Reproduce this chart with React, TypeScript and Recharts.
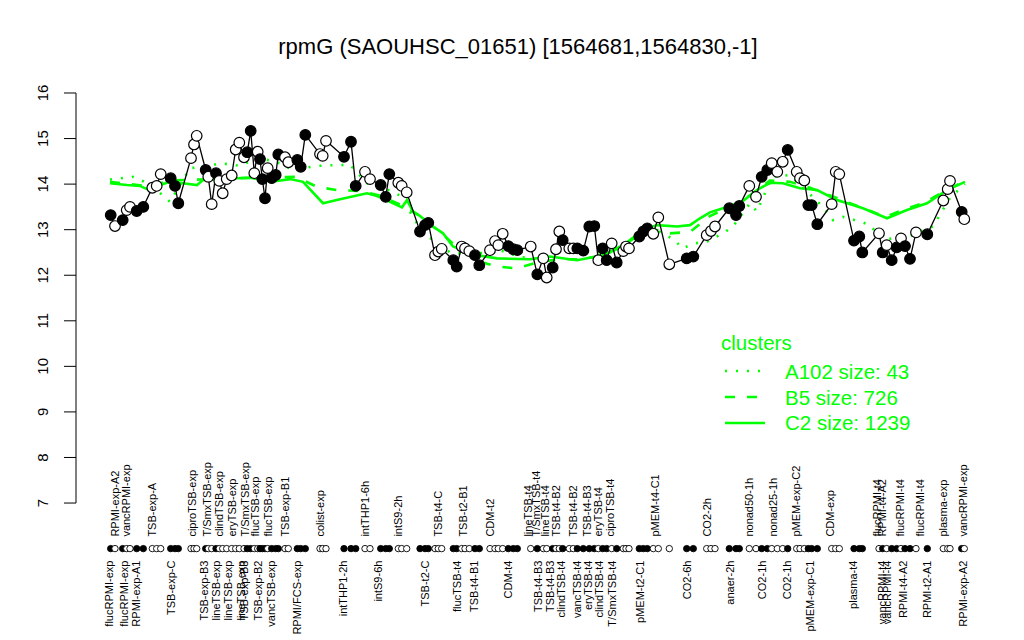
import React from 'react';
import { ComposedChart, Line, XAxis, YAxis, ReferenceLine } from 'recharts';

const FONT = '"Liberation Sans", Arial, Helvetica, sans-serif';
const GREEN = '#00ff00';

const TITLE = 'rpmG (SAOUHSC_01651) [1564681,1564830,-1]';

// axis ranges
const X_MIN = 76;
const X_MAX = 997;
const Y_MIN = 3.994;
const Y_MAX = 18.041;
const yTicks = [7, 8, 9, 10, 11, 12, 13, 14, 15, 16];
const STRIP_LEVEL = 6;

// sample positions (ordinal position along the condition strip)
const pointPos = [
  110.7, 115, 122.7, 126.7, 130, 136.7, 143.3, 152.3, 156.7, 160.7,
  170.7, 175, 178.3, 191, 194, 196.7, 205.7, 208.3, 211.7, 216,
  219.3, 222.7, 226.7, 231.7, 235.7, 239.3, 244, 247.3, 250.7, 254.3,
  257.7, 260, 262.3, 265, 267.7, 271.7, 275.7, 278.3, 285, 288.3,
  297.3, 300.7, 305.3, 320, 322.7, 326, 344, 351, 355.7, 365,
  370, 380.7, 385.7, 389.3, 398.3, 401.7, 406.7, 420, 425, 428.3,
  435, 438.3, 441.7, 453.3, 456.7, 461.7, 465, 469.3, 475, 479.3,
  490, 495, 498.3, 502.7, 508.3, 513.3, 517.3, 530.7, 537.3, 543.3,
  546.7, 552.7, 556, 559.3, 562.7, 569.3, 573.3, 577.3, 583.3, 589.3,
  594.3, 598.3, 602.7, 606.7, 611.7, 616.7, 623.3, 626, 629, 639.3,
  643.3, 647.3, 653.3, 658.3, 669.3, 686.7, 693.3, 706.7, 711, 715,
  729.3, 736, 739.3, 749.3, 756, 761.7, 767.3, 771.7, 777.3, 782.7,
  787.7, 796.7, 800, 804.3, 808.3, 811.7, 817.3, 831.7, 835.7, 839.3,
  854, 859.3, 862.3, 879, 882.7, 886.7, 891.7, 896.7, 901, 905,
  910, 916, 927.3, 943.3, 947.7, 950, 961.7, 964.3,
];

// expression values
const pointVal = [
  13.32, 13.08, 13.21, 13.43, 13.5, 13.41, 13.5, 13.92, 13.96, 14.22,
  14.13, 13.96, 13.58, 14.57, 14.87, 15.06, 14.31, 14.16, 13.56, 14.24,
  14.07, 13.8, 14.11, 14.19, 14.76, 14.91, 14.59, 14.7, 15.17, 14.24,
  14.71, 14.55, 14.11, 13.69, 14.35, 14.13, 14.2, 14.65, 14.59, 14.48,
  14.53, 14.38, 15.08, 14.66, 14.62, 14.95, 14.6, 14.93, 13.96, 14.27,
  14.11, 13.98, 13.72, 14.22, 14.03, 13.96, 13.82, 12.96, 13.1, 13.15,
  12.44, 12.52, 12.58, 12.33, 12.19, 12.63, 12.59, 12.53, 12.44, 12.22,
  12.55, 12.75, 12.66, 12.91, 12.64, 12.57, 12.55, 12.63, 12.02, 12.37,
  11.95, 12.17, 12.57, 12.96, 12.77, 12.59, 12.59, 12.59, 12.54, 13.07,
  13.08, 12.33, 12.59, 12.33, 12.7, 12.28, 12.53, 12.63, 12.59, 12.85,
  12.96, 13.03, 12.91, 13.27, 12.24, 12.37, 12.41, 12.88, 12.97, 13.07,
  13.47, 13.32, 13.52, 13.96, 13.72, 14.16, 14.31, 14.46, 14.27, 14.49,
  14.75, 14.27, 14.13, 14.08, 13.54, 13.54, 13.12, 13.56, 14.27, 14.22,
  12.76, 12.85, 12.5, 12.92, 12.5, 12.66, 12.33, 12.61, 12.81, 12.64,
  12.36, 12.94, 12.9, 13.64, 13.89, 14.07, 13.39, 13.23,
];

// 1 = filled marker, 0 = open marker
const pointFilled = [
  1, 0, 1, 0, 0, 1, 1, 0, 0, 0,
  1, 1, 1, 0, 0, 0, 1, 0, 0, 1,
  0, 0, 0, 0, 0, 0, 0, 1, 1, 0,
  0, 1, 1, 1, 0, 1, 1, 1, 0, 0,
  1, 1, 1, 0, 0, 0, 1, 1, 1, 0,
  0, 1, 1, 1, 0, 0, 0, 1, 1, 1,
  0, 0, 0, 1, 1, 0, 0, 0, 1, 1,
  0, 0, 0, 0, 1, 1, 1, 0, 1, 0,
  0, 1, 0, 0, 1, 0, 0, 1, 1, 1,
  1, 0, 1, 1, 0, 1, 0, 0, 0, 1,
  1, 1, 0, 0, 0, 1, 1, 0, 0, 0,
  1, 1, 1, 0, 0, 1, 1, 0, 0, 0,
  1, 0, 0, 0, 1, 1, 1, 0, 0, 0,
  1, 1, 1, 0, 1, 0, 1, 1, 0, 1,
  1, 0, 1, 0, 0, 0, 1, 0,
];

// cluster means
const c2Pos = [110, 127, 140, 147, 157, 170, 183, 197, 203, 223, 237, 250, 263, 277, 290, 303, 323, 340, 367, 377, 390, 402, 407, 413, 420, 433, 443, 453, 477, 497, 530, 550, 577, 603, 623, 643, 657, 677, 690, 700, 710, 723, 740, 757, 770, 783, 800, 817, 837, 863, 887, 907, 927, 947, 965];
const c2Val = [14.02, 13.98, 13.96, 13.89, 13.96, 14.05, 14.02, 13.98, 14.09, 14.11, 14.13, 14.14, 14.09, 14.07, 14.11, 14.05, 13.58, 13.67, 13.8, 13.74, 13.61, 13.49, 13.65, 13.4, 13.3, 13.07, 12.92, 12.63, 12.44, 12.37, 12.35, 12.41, 12.33, 12.44, 12.66, 12.99, 13.1, 13.07, 13.1, 13.25, 13.38, 13.47, 13.58, 13.87, 14.03, 14.02, 13.91, 13.87, 13.65, 13.47, 13.25, 13.43, 13.58, 13.87, 14.05];

const b5Pos = [110, 130, 150, 170, 200, 230, 260, 280, 296, 317, 337, 360, 380, 400, 420, 440, 460, 480, 497, 517, 540, 560, 580, 600, 620, 640, 655, 670, 690, 710, 730, 750, 770, 790, 810, 830, 860, 885, 905, 925, 945, 965];
const b5Val = [14.05, 14.0, 13.95, 14.08, 14.1, 14.12, 14.15, 14.15, 14.16, 13.94, 13.87, 13.85, 13.75, 13.55, 13.3, 12.95, 12.55, 12.3, 12.19, 12.15, 12.3, 12.35, 12.35, 12.42, 12.6, 12.9, 13.0, 12.92, 12.95, 13.3, 13.5, 13.75, 14.08, 14.05, 13.92, 13.75, 13.5, 13.28, 13.45, 13.6, 13.85, 14.07];

const a102Pos = [110, 133, 150, 170, 190, 210, 220, 240, 257, 275, 293, 317, 337, 350, 367, 385, 400, 417, 430, 450, 470, 500, 520, 540, 560, 580, 600, 620, 640, 660, 675, 682, 695, 707, 723, 733, 750, 757, 772, 790, 807, 823, 833, 843, 860, 870, 883, 897, 910, 923, 933, 950, 965];
const a102Val = [14.1, 14.16, 14.0, 13.61, 14.35, 14.4, 14.46, 14.4, 14.57, 14.5, 14.31, 14.4, 14.42, 14.42, 14.02, 13.9, 13.75, 13.14, 12.82, 12.5, 12.45, 12.55, 12.4, 12.35, 12.5, 12.55, 12.5, 12.5, 12.8, 12.95, 12.77, 12.59, 12.7, 12.74, 12.92, 13.07, 13.58, 13.4, 14.16, 14.2, 13.84, 13.5, 13.21, 13.28, 13.18, 13.1, 12.77, 12.83, 12.85, 12.99, 13.07, 13.7, 14.0];

// condition labels above the strip
const aboveLabelPos = [115, 125.7, 152.3, 191.7, 207.3, 219, 231.7, 245, 255, 267.7, 285, 320, 365, 398.3, 438.3, 463.3, 490, 528.3, 536, 545, 556, 573.3, 586.7, 598.3, 610, 655, 706.7, 749.3, 773.3, 796, 830, 876.7, 881.7, 900, 920, 943.3, 963.3];
const aboveLabelText = ['RPMI-exp-A2', 'vancRPMI-exp', 'TSB-exp-A', 'ciproTSB-exp', 'T/SmxTSB-exp', 'clindTSB-exp', 'eryTSB-exp', 'T/SmxTSB-exp', 'flucTSB-exp', 'flucTSB-exp', 'TSB-exp-B1', 'colist-exp', 'intTHP1-6h', 'intS9-2h', 'TSB-t4-C', 'TSB-t2-B1', 'CDM-t2', 'lineTSB-t4', 'T/SmxTSB-t4', 'lineTSB-t4', 'TSB-t4-B2', 'TSB-t4-B2', 'TSB-t4-B3', 'eryTSB-t4', 'ciproTSB-t4', 'pMEM-t4-C1', 'CO2-2h', 'nonad50-1h', 'nonad25-1h', 'pMEM-exp-C2', 'CDM-exp', 'flucRPMI-t4', 'RPMI-t4-A2', 'flucRPMI-t4', 'flucRPMI-t4', 'plasma-exp', 'vancRPMI-exp'];

// condition labels below the strip
const belowLabelPos = [109, 124, 135.7, 171, 204.3, 215.7, 228.3, 241, 244.3, 258.3, 271, 296.7, 343.3, 378.3, 425, 456.7, 474, 508.3, 538.3, 550, 560.7, 576.7, 588.3, 599.3, 611.7, 640, 686.7, 730, 761.7, 786.7, 810, 853.3, 881.7, 886.7, 903.3, 927.3, 962.7];
const belowLabelText = ['flucRPMI-exp', 'flucRPMI-exp', 'RPMI-exp-A1', 'TSB-exp-C', 'TSB-exp-B3', 'lineTSB-exp', 'lineTSB-exp', 'lineTSB-exp', 'TSB-exp-B3', 'TSB-exp-B2', 'vancTSB-exp', 'RPMI/FCS-exp', 'intTHP1-2h', 'intS9-6h', 'TSB-t2-C', 'flucTSB-t4', 'TSB-t4-B1', 'CDM-t4', 'TSB-t4-B3', 'TSB-t4-B3', 'clindTSB-t4', 'vancTSB-t4', 'eryTSB-t4', 'clindTSB-t4', 'T/SmxTSB-t4', 'pMEM-t2-C1', 'CO2-6h', 'anaer-2h', 'CO2-1h', 'CO2-1h', 'pMEM-exp-C1', 'plasma-t4', 'vancRPMI-t4', 'vancRPMI-t4', 'RPMI-t4-A2', 'RPMI-t2-A1', 'RPMI-exp-A2'];

const legendTitle = 'clusters';
const legendNames = ['A102 size: 43', 'B5 size: 726', 'C2 size: 1239'];

// tables built from arrays
const points = pointPos.map((p, i) => ({ pos: p, v: pointVal[i], f: pointFilled[i] }));
const strip = pointPos.map((p, i) => ({ pos: p, s: STRIP_LEVEL, f: pointFilled[i] }));
const c2 = c2Pos.map((p, i) => ({ pos: p, v: c2Val[i] }));
const b5 = b5Pos.map((p, i) => ({ pos: p, v: b5Val[i] }));
const a102 = a102Pos.map((p, i) => ({ pos: p, v: a102Val[i] }));
const aboveLabels = aboveLabelPos.map((p, i) => ({ pos: p, s: STRIP_LEVEL, t: aboveLabelText[i] }));
const belowLabels = belowLabelPos.map((p, i) => ({ pos: p, s: STRIP_LEVEL, t: belowLabelText[i] }));

const YTick = (props: any) => {
  const { x, y, payload } = props;
  const cx = x - 19;
  return (
    <text
      x={cx}
      y={y}
      dy="0.35em"
      textAnchor="middle"
      transform={`rotate(-90, ${cx}, ${y})`}
      fontFamily={FONT}
      fontSize={15}
      fill="#000"
    >
      {payload.value}
    </text>
  );
};

const mainDot = (props: any) => {
  const { cx, cy, payload, index } = props;
  return (
    <circle
      key={`m${index}`}
      cx={cx}
      cy={cy}
      r={5.3}
      fill={payload.f ? '#000' : '#fff'}
      stroke="#000"
      strokeWidth={1.2}
    />
  );
};

const stripDot = (props: any) => {
  const { cx, cy, payload, index } = props;
  return (
    <circle
      key={`s${index}`}
      cx={cx}
      cy={cy}
      r={3.2}
      fill={payload.f ? '#000' : '#fff'}
      stroke="#000"
      strokeWidth={0.9}
    />
  );
};

const aboveText = (props: any) => {
  const { cx, cy, payload, index } = props;
  const y = cy - 12;
  return (
    <text
      key={`a${index}`}
      x={cx}
      y={y}
      dy="0.35em"
      textAnchor="start"
      transform={`rotate(-90, ${cx}, ${y})`}
      fontFamily={FONT}
      fontSize={11}
      fill="#000"
    >
      {payload.t}
    </text>
  );
};

const belowText = (props: any) => {
  const { cx, cy, payload, index } = props;
  const y = cy + 12;
  return (
    <text
      key={`b${index}`}
      x={cx}
      y={y}
      dy="0.35em"
      textAnchor="end"
      transform={`rotate(-90, ${cx}, ${y})`}
      fontFamily={FONT}
      fontSize={11}
      fill="#000"
    >
      {payload.t}
    </text>
  );
};

export default function App() {
  return (
    <div style={{ position: 'relative', width: 1024, height: 640, background: '#fff' }}>
      <style>{'body{margin:0;}'}</style>
      <ComposedChart width={1024} height={640} margin={{ top: 0, right: 27, bottom: 0, left: 0 }}>
        <XAxis type="number" dataKey="pos" domain={[X_MIN, X_MAX]} hide allowDataOverflow />
        <YAxis
          type="number"
          domain={[Y_MIN, Y_MAX]}
          ticks={yTicks}
          interval={0}
          width={76}
          axisLine={false}
          tickLine={{ stroke: '#000', strokeWidth: 1 }}
          tickSize={12}
          tick={<YTick />}
          allowDataOverflow
        />
        <ReferenceLine segment={[{ x: X_MIN, y: 7 }, { x: X_MIN, y: 16 }]} stroke="#000" strokeWidth={1} />
        <Line data={c2} dataKey="v" type="linear" stroke={GREEN} strokeWidth={2.6} dot={false} isAnimationActive={false} />
        <Line data={b5} dataKey="v" type="linear" stroke={GREEN} strokeWidth={2.6} strokeDasharray="10 12" dot={false} isAnimationActive={false} />
        <Line data={a102} dataKey="v" type="linear" stroke={GREEN} strokeWidth={2.6} strokeDasharray="2 9" dot={false} isAnimationActive={false} />
        <Line data={points} dataKey="v" type="linear" stroke="#000" strokeWidth={1.3} dot={mainDot} activeDot={false} isAnimationActive={false} />
        <Line data={strip} dataKey="s" stroke="none" dot={stripDot} activeDot={false} isAnimationActive={false} />
        <Line data={aboveLabels} dataKey="s" stroke="none" dot={aboveText} activeDot={false} isAnimationActive={false} />
        <Line data={belowLabels} dataKey="s" stroke="none" dot={belowText} activeDot={false} isAnimationActive={false} />
      </ComposedChart>
      <svg width={1024} height={640} style={{ position: 'absolute', left: 0, top: 0, pointerEvents: 'none' }}>
        <text x={518} y={54} textAnchor="middle" fontFamily={FONT} fontSize={22} fill="#000">
          {TITLE}
        </text>
        <g fontFamily={FONT} fontSize={20.5} fill={GREEN}>
          <text x={721} y={350}>{legendTitle}</text>
          <line x1={725} x2={765} y1={371} y2={371} stroke={GREEN} strokeWidth={2.6} strokeDasharray="2 9" />
          <line x1={725} x2={765} y1={397} y2={397} stroke={GREEN} strokeWidth={2.6} strokeDasharray="10 12" />
          <line x1={725} x2={765} y1={423} y2={423} stroke={GREEN} strokeWidth={2.6} />
          <text x={785} y={378.5}>{legendNames[0]}</text>
          <text x={785} y={405}>{legendNames[1]}</text>
          <text x={785} y={430}>{legendNames[2]}</text>
        </g>
      </svg>
    </div>
  );
}
